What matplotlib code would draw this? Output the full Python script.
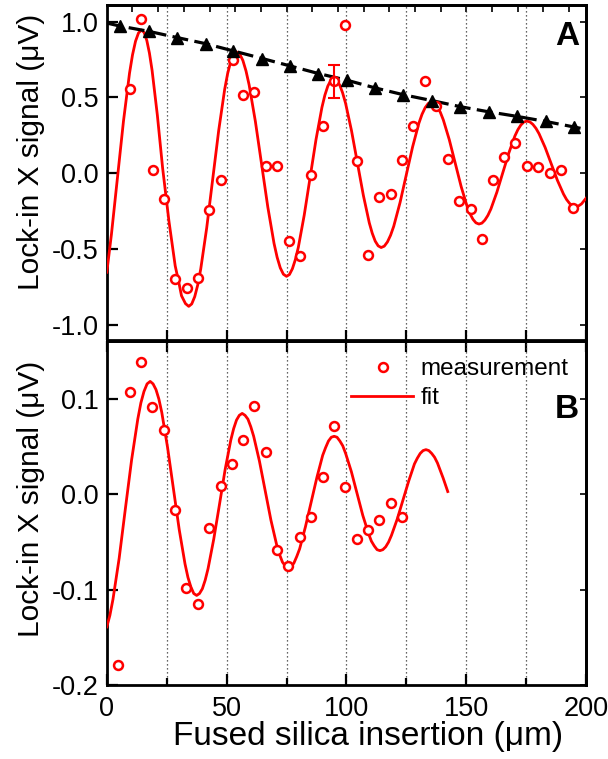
import numpy as np
import matplotlib
matplotlib.use("Agg")
import matplotlib.pyplot as plt

plt.rcParams['font.family'] = ['Liberation Sans', 'DejaVu Sans']
plt.rcParams['axes.unicode_minus'] = False

# ---------------- Panel A data ----------------
a_meas_x = [9.8, 14.4, 19.2, 23.8, 28.6, 33.4, 38.1, 42.8, 47.6, 52.6, 57.0, 61.6,
            66.5, 71.2, 75.9, 80.7, 85.3, 90.3, 95.0, 99.6, 104.3, 109.2, 113.8,
            118.5, 123.4, 128.0, 132.9, 137.3, 142.2, 146.9, 151.8, 156.4, 161.3,
            165.8, 170.4, 175.3, 180.0, 184.8, 189.5, 194.4]
a_meas_y = [0.559, 1.020, 0.020, -0.171, -0.695, -0.755, -0.691, -0.241, -0.044,
            0.745, 0.515, 0.533, 0.050, 0.050, -0.450, -0.544, -0.011, 0.311,
            0.607, 0.976, 0.083, -0.536, -0.156, -0.138, 0.089, 0.309, 0.609,
            0.443, 0.094, -0.184, -0.237, -0.434, -0.046, 0.109, 0.201, 0.050,
            0.041, -0.001, 0.022, -0.230]

a_err_x = [95.0]
a_err_y = [0.605]
a_err = [0.11]

a_fit_x = [0.0, 1.94, 4.45, 6.96, 9.48, 10.73, 11.99, 13.24,
           14.5, 15.6, 16.7, 17.8, 18.9, 21.1, 23.3, 25.93, 28.55, 30.11, 31.18, 32.84,
           34.2, 35.45, 36.7, 37.95, 39.2, 41.7, 44.2, 46.7, 49.2, 50.45, 51.7, 52.95,
           54.2, 55.5, 56.8, 58.1, 59.4, 62.0, 64.6, 67.2, 69.8, 71.1, 72.4, 73.7,
           75.0, 76.23, 77.46, 78.69, 79.93, 82.39, 84.85, 87.31, 89.78, 91.01, 92.24, 93.47,
           94.7, 95.94, 97.18, 98.41, 99.65, 102.13, 104.6, 107.08, 109.55, 110.79, 112.03, 113.26,
           114.5, 115.81, 117.13, 118.44, 119.75, 122.38, 125.0, 127.63, 130.25, 131.56, 132.88, 134.19,
           135.5, 136.74, 137.98, 139.21, 140.45, 142.93, 145.4, 147.88, 150.35, 151.59, 152.83, 154.06,
           155.3, 156.55, 157.8, 159.05, 160.3, 162.8, 165.3, 167.8, 170.3, 171.55, 172.8, 174.05,
           175.3, 176.58, 177.85, 179.13, 180.4, 182.95, 185.5, 188.05, 190.6, 191.88, 193.15, 194.43,
           195.7, 196.92, 198.14, 200.0]
a_fit_y = [-0.653, -0.402, -0.029, 0.344, 0.660, 0.781, 0.871, 0.926,
           0.945, 0.928, 0.876, 0.792, 0.679, 0.383, 0.034, -0.315, -0.611, -0.724, -0.808, -0.860,
           -0.878, -0.862, -0.814, -0.737, -0.632, -0.360, -0.039, 0.282, 0.554, 0.659, 0.736, 0.784,
           0.800, 0.786, 0.744, 0.675, 0.583, 0.343, 0.060, -0.223, -0.463, -0.555, -0.624, -0.666,
           -0.680, -0.668, -0.630, -0.570, -0.489, -0.277, -0.028, 0.222, 0.434, 0.515, 0.575, 0.612,
           0.625, 0.614, 0.583, 0.531, 0.462, 0.281, 0.068, -0.146, -0.327, -0.396, -0.448, -0.479,
           -0.490, -0.481, -0.453, -0.409, -0.350, -0.194, -0.010, 0.174, 0.330, 0.389, 0.433, 0.461,
           0.470, 0.462, 0.439, 0.402, 0.352, 0.222, 0.068, -0.087, -0.217, -0.267, -0.304, -0.327,
           -0.335, -0.329, -0.309, -0.278, -0.236, -0.125, 0.005, 0.134, 0.245, 0.287, 0.318, 0.338,
           0.344, 0.339, 0.322, 0.296, 0.261, 0.170, 0.062, -0.046, -0.137, -0.173, -0.199, -0.215,
           -0.220, -0.215, -0.202, -0.165]

env_x = [5.5, 17.6, 29.4, 41.2, 52.8, 64.9, 76.5, 88.3, 100.2, 112.0, 123.8,
         135.8, 147.6, 159.5, 171.3, 183.1, 195.1]
env_y = [0.971, 0.936, 0.895, 0.855, 0.807, 0.757, 0.708, 0.658, 0.614, 0.563,
         0.518, 0.479, 0.439, 0.405, 0.375, 0.342, 0.305]
env_line_x = [0.0] + env_x + [200.0]
env_line_y = [0.991] + env_y + [0.289]

# ---------------- Panel B data ----------------
b_meas_x = [4.8, 9.7, 14.4, 19.0, 23.8, 28.6, 33.1, 38.0, 42.5, 47.6, 52.3, 56.9,
            61.5, 66.3, 71.2, 75.8, 80.7, 85.3, 90.1, 95.0, 99.6, 104.3, 109.2,
            113.8, 118.5, 123.3]
b_meas_y = [-0.179, 0.107, 0.139, 0.092, 0.068, -0.016, -0.098, -0.115, -0.035,
            0.009, 0.032, 0.057, 0.093, 0.045, -0.058, -0.075, -0.045, -0.024,
            0.018, 0.072, 0.008, -0.047, -0.037, -0.027, -0.009, -0.024]

b_fit_x = [0.0, 1.28, 2.58, 5.16, 7.75, 10.34, 12.93, 14.22, 15.51, 16.81,
           18.1, 19.31, 20.53, 21.74, 22.95, 25.38, 27.8, 30.23, 32.65, 33.86, 35.08, 36.29,
           37.5, 38.69, 39.88, 41.06, 42.25, 44.63, 47.0, 49.38, 51.75, 52.94, 54.13, 55.31,
           56.5, 57.7, 58.9, 60.1, 61.3, 63.7, 66.1, 68.5, 70.9, 72.1, 73.3, 74.5,
           75.7, 76.9, 78.1, 79.3, 80.5, 82.9, 85.3, 87.7, 90.1, 91.3, 92.5, 93.7,
           94.9, 96.09, 97.29, 98.48, 99.68, 102.06, 104.45, 106.84, 109.23, 110.42, 111.61, 112.81,
           114.0, 115.2, 116.4, 117.6, 118.8, 121.2, 123.6, 126.0, 128.4, 129.6, 130.8, 132.0,
           133.2, 134.4, 135.6, 136.8, 138.0, 140.4, 142.3]
b_fit_y = [-0.139, -0.127, -0.110, -0.067, -0.015, 0.036, 0.079, 0.096, 0.108, 0.116,
           0.1186, 0.116, 0.110, 0.100, 0.086, 0.049, 0.006, -0.037, -0.073, -0.087, -0.097, -0.104,
           -0.106, -0.104, -0.099, -0.090, -0.078, -0.047, -0.011, 0.026, 0.057, 0.069, 0.078, 0.083,
           0.085, 0.083, 0.079, 0.071, 0.061, 0.035, 0.004, -0.027, -0.053, -0.063, -0.071, -0.075,
           -0.077, -0.076, -0.072, -0.065, -0.057, -0.034, -0.008, 0.018, 0.041, 0.049, 0.056, 0.060,
           0.061, 0.060, 0.056, 0.051, 0.043, 0.024, 0.001, -0.022, -0.041, -0.049, -0.054, -0.058,
           -0.059, -0.058, -0.055, -0.050, -0.043, -0.026, -0.006, 0.014, 0.032, 0.038, 0.043, 0.046,
           0.047, 0.046, 0.043, 0.039, 0.033, 0.017, 0.003]

a_yticks = [-1.0, -0.5, 0.0, 0.5, 1.0]
a_yticklabels = ['-1.0', '-0.5', '0.0', '0.5', '1.0']
b_yticks = [-0.2, -0.1, 0.0, 0.1]
b_yticklabels = ['-0.2', '-0.1', '0.0', '0.1']
x_major = [0, 50, 100, 150, 200]
x_minor = [25, 75, 125, 175]
grid_x = [25, 50, 75, 100, 125, 150, 175]
legend_labels = ['measurement', 'fit']

RED = '#ff0000'
W, H = 608, 759
fig = plt.figure(figsize=(W / 100, H / 100), dpi=100)
L, R = 106.8, 586.0
axA = fig.add_axes([L / W, 1 - 340 / H, (R - L) / W, 335 / H])
axB = fig.add_axes([L / W, 1 - 685 / H, (R - L) / W, 344 / H])

circ_kw = dict(ls='none', marker='o', ms=6.4, mew=1.8, mec=RED, mfc='white')
TICKFS = 19.5

# ---- Panel A ----
for gx in grid_x:
    axA.axvline(gx, color='0.2', lw=0.9, ls=(0, (1, 2.2)), zorder=1)
axA.plot(a_fit_x, a_fit_y, color=RED, lw=2.0, zorder=3, solid_joinstyle='round')
axA.plot(a_meas_x, a_meas_y, zorder=5, **circ_kw)
axA.errorbar(a_err_x, a_err_y, yerr=a_err, fmt='none', ecolor=RED, elinewidth=1.5,
             capsize=4, capthick=1.5, zorder=5)
axA.plot(env_line_x, env_line_y, color='black', lw=2.3, ls=(0, (5, 2)), zorder=4)
axA.plot(env_x, env_y, ls='none', marker='^', ms=8, color='black', zorder=6)
axA.set_xlim(0, 200)
axA.set_ylim(-1.1, 1.11)
axA.set_yticks(a_yticks)
axA.set_yticklabels(a_yticklabels)
axA.set_xticks(x_major + x_minor)
axA.tick_params(axis='x', direction='in', length=7, width=1.6, labelbottom=False)
axA.tick_params(axis='y', direction='in', length=8, width=1.6, labelsize=TICKFS, pad=6)
topA = axA.secondary_xaxis('top')
topA.set_xticks(np.arange(10.72, 200, 10.72))
topA.tick_params(direction='in', length=5, width=1.2, labeltop=False)
rightA = axA.secondary_yaxis('right')
rightA.set_yticks(a_yticks)
rightA.tick_params(direction='in', length=4, width=1.2, labelright=False)
axA.text(0.96, 0.905, 'A', transform=axA.transAxes, fontsize=24, fontweight='bold',
         ha='center', va='center')
axA.set_ylabel('Lock-in X signal (μV)', fontsize=21.5)
axA.yaxis.set_label_coords(-0.128, 0.563)

# ---- Panel B ----
for gx in grid_x:
    axB.axvline(gx, color='0.2', lw=0.9, ls=(0, (1, 2.2)), zorder=1)
axB.plot(b_fit_x, b_fit_y, color=RED, lw=2.0, zorder=3, solid_joinstyle='round')
axB.plot(b_meas_x, b_meas_y, zorder=5, **circ_kw)
axB.set_xlim(0, 200)
axB.set_ylim(-0.2, 0.161)
axB.set_yticks(b_yticks)
axB.set_yticklabels(b_yticklabels)
axB.set_xticks(x_major)
axB.set_xticks(x_minor, minor=True)
axB.set_xticklabels([str(v) for v in x_major])
axB.tick_params(axis='x', which='major', direction='in', length=8, width=1.6,
                labelsize=TICKFS, pad=8)
axB.tick_params(axis='x', which='minor', direction='in', length=5, width=1.6)
axB.tick_params(axis='y', direction='in', length=8, width=1.6, labelsize=TICKFS, pad=6)
topB = axB.secondary_xaxis('top')
topB.set_xticks(x_major + x_minor)
topB.tick_params(direction='in', length=8, width=1.6, labeltop=False)
rightB = axB.secondary_yaxis('right')
rightB.set_yticks(b_yticks)
rightB.tick_params(direction='in', length=4, width=1.2, labelright=False)
axB.text(0.96, 0.80, 'B', transform=axB.transAxes, fontsize=24, fontweight='bold',
         ha='center', va='center')
axB.set_ylabel('Lock-in X signal (μV)', fontsize=21.5)
axB.yaxis.set_label_coords(-0.128, 0.542)
axB.set_xlabel('Fused silica insertion (μm)', fontsize=24)
axB.xaxis.set_label_coords(0.545, -0.105)
axB.xaxis.label.set_va('top')

# legend (drawn in axes coordinates)
tA = axB.transAxes
axB.plot([0.576], [0.924], transform=tA, zorder=7, **circ_kw)
axB.plot([0.5096, 0.639], [0.840, 0.840], transform=tA, color=RED, lw=2.0, zorder=7)
axB.text(0.654, 0.901, legend_labels[0], transform=tA, fontsize=17.5, va='baseline', ha='left')
axB.text(0.654, 0.817, legend_labels[1], transform=tA, fontsize=17.5, va='baseline', ha='left')

for ax in (axA, axB, topA, rightA, topB, rightB):
    for sp in ax.spines.values():
        sp.set_linewidth(2.0)

fig.savefig('out.png', dpi=100)
